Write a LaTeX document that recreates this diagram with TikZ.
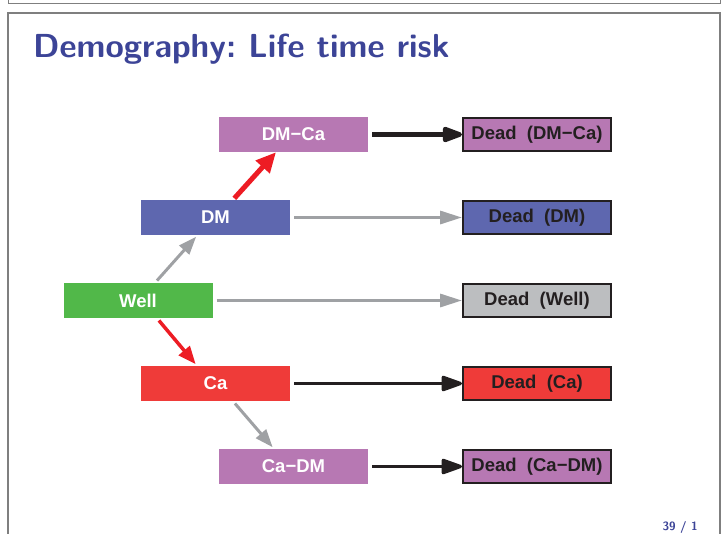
\documentclass[tikz,border=0pt]{standalone}
\usepackage{fontspec}
\setmainfont{Liberation Sans}
\usetikzlibrary{arrows.meta}
\definecolor{cpurple}{HTML}{B778B3}
\definecolor{cblue}{HTML}{5E67AF}
\definecolor{cgreen}{HTML}{51B849}
\definecolor{cred}{HTML}{EF3B39}
\definecolor{cgraybox}{HTML}{BCBEC0}
\definecolor{cdark}{HTML}{231F20}
\definecolor{carrgray}{HTML}{9FA1A4}
\definecolor{carrred}{HTML}{ED1C24}
\definecolor{ctitle}{HTML}{3C4497}
\definecolor{cframe}{HTML}{7F7F7F}
\tikzset{
  state/.style={minimum width=149pt, minimum height=35pt, inner sep=0pt,
    text=white, font=\fontsize{18.5}{20}\selectfont\bfseries},
  dead/.style={minimum width=148pt, minimum height=33pt, inner sep=0pt,
    draw=cdark, line width=2pt, text=cdark, font=\fontsize{18.5}{20}\selectfont\bfseries},
  blackarr/.style={draw=cdark, line width=3.3pt, shorten <=4pt,
    -{Triangle[length=24pt,width=16pt,round]}},
  blackarrthick/.style={blackarr, line width=4.5pt},
  grayarr/.style={draw=carrgray, line width=3.2pt, shorten <=4pt,
    -{Triangle[length=22pt,width=13pt]}},
  grayarrdiag/.style={draw=carrgray, line width=3pt, shorten <=3pt, shorten >=2pt,
    -{Triangle[length=18pt,width=13pt]}},
  redarrthick/.style={draw=carrred, line width=5pt, shorten <=2pt,
    -{Triangle[length=20pt,width=18pt]}},
  redarr/.style={draw=carrred, line width=3.5pt, shorten <=3pt, shorten >=2pt,
    -{Triangle[length=18pt,width=14pt]}},
}
\begin{document}
\begin{tikzpicture}[x=1pt,y=-1pt]
\useasboundingbox (0,0) rectangle (728,533);
% header box and frame
\draw[cframe, line width=1pt] (8,-10) rectangle (720,3);
\draw[cframe, line width=1.2pt] (8,545) -- (8,13) -- (720,13) -- (720,545);
% title
\node[anchor=base west, inner sep=0pt, text=ctitle,
  font=\sffamily\fontsize{33.3}{36}\selectfont\bfseries]
  (title) at (33,57.5) {Demography:\ Life time risk};
% page number
\node[anchor=base east, inner sep=0pt, text=ctitle,
  font=\sffamily\fontsize{12}{14}\selectfont\bfseries]
  (page) at (698,530) {39 / 1};
% states
\node[state, fill=cpurple] (dmca) at (293.5,134.5) {DM−Ca};
\node[state, fill=cblue] (dm) at (215.5,217.5) {DM};
\node[state, fill=cgreen] (well) at (138,300.5) {Well};
\node[state, fill=cred] (ca) at (215.5,383.5) {Ca};
\node[state, fill=cpurple] (cadm) at (293.5,466.5) {Ca−DM};
% dead states
\node[dead, fill=cpurple] (ddmca) at (537,134.5) {Dead\ \ (DM−Ca)};
\node[dead, fill=cblue] (ddm) at (537,217.5) {Dead\ \ (DM)};
\node[dead, fill=cgraybox] (dwell) at (537,300.5) {Dead\ \ (Well)};
\node[dead, fill=cred] (dca) at (537,383.5) {Dead\ \ (Ca)};
\node[dead, fill=cpurple] (dcadm) at (537,466.5) {Dead\ \ (Ca−DM)};
% horizontal arrows
\draw[blackarrthick] (dmca) -- (ddmca);
\draw[grayarr] (dm) -- (ddm);
\draw[grayarr] (well) -- (dwell);
\draw[blackarr] (ca) -- (dca);
\draw[blackarr] (cadm) -- (dcadm);
% diagonal arrows
\draw[grayarrdiag] ([xshift=17pt]well.north) -- ([xshift=-18pt]dm.south);
\draw[redarrthick] ([xshift=17.5pt]dm.north) -- ([xshift=-17.5pt]dmca.south);
\draw[redarr] ([xshift=19pt]well.south) -- ([xshift=-18.5pt]ca.north);
\draw[grayarrdiag] ([xshift=17.5pt]ca.south) -- ([xshift=-19.5pt]cadm.north);
\end{tikzpicture}
\end{document}
